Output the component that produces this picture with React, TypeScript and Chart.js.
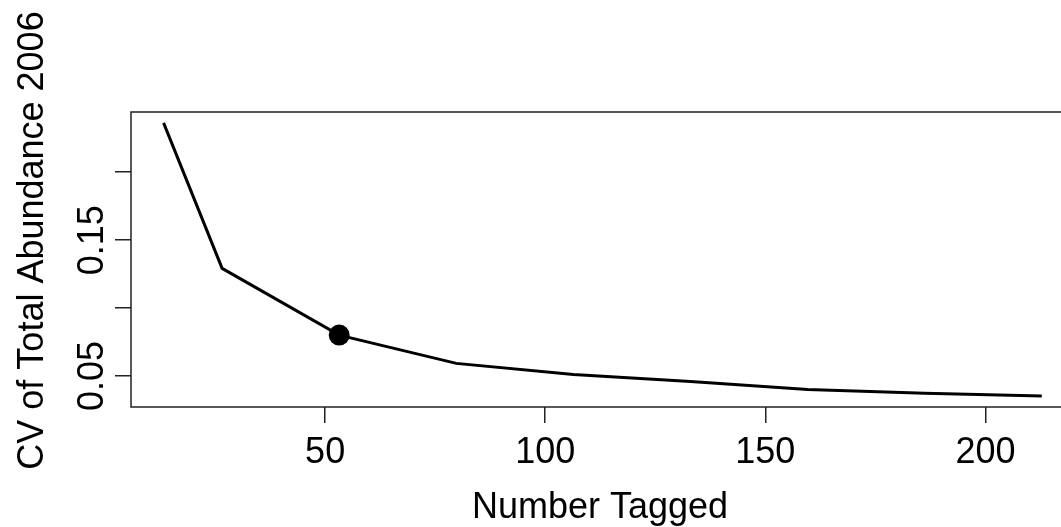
import React, { useEffect, useRef } from "react";
import { Chart, registerables } from "chart.js";

Chart.register(...registerables);

// ---- data ----
const nTagged = [13.3, 26.6, 53.2, 79.8, 106.4, 133, 159.6, 186.2, 212.8];
const cvTotal = [0.2363, 0.1292, 0.0801, 0.0593, 0.0512, 0.046, 0.04, 0.0373, 0.0353];
const chosenN = [53.2];
const chosenCV = [0.0801];
const xTicks = [50, 100, 150, 200];
const yTicks = [0.05, 0.1, 0.15, 0.2];
const yTickLabels = ["0.05", "", "0.15", ""];
const xTitle = "Number Tagged";
const yTitle = "CV of Total Abundance 2006";

const FONT = "'Liberation Sans', Arial, sans-serif";
const CANVAS_W = 1100;
const CANVAS_H = 527;

const framePlugin = {
  id: "frameAndText",
  afterDraw(chart: any) {
    const { ctx, chartArea: a, scales } = chart;
    ctx.save();
    ctx.strokeStyle = "#222";
    ctx.lineWidth = 1.5;
    ctx.strokeRect(a.left, a.top, a.right - a.left, a.bottom - a.top);

    ctx.fillStyle = "#000";
    ctx.font = `36px ${FONT}`;
    const ys = scales.y;
    yTicks.forEach((v, i) => {
      const lbl = yTickLabels[i];
      if (!lbl) return;
      const py = ys.getPixelForValue(v);
      ctx.save();
      ctx.translate(a.left - 28, py);
      ctx.rotate(-Math.PI / 2);
      ctx.textAlign = "center";
      ctx.textBaseline = "alphabetic";
      ctx.fillText(lbl, 0, 0);
      ctx.restore();
    });

    // y axis title
    ctx.save();
    ctx.translate(43, (a.top + a.bottom) / 2 - 19);
    ctx.rotate(-Math.PI / 2);
    ctx.textAlign = "center";
    ctx.textBaseline = "alphabetic";
    ctx.fillText(yTitle, 0, 0);
    ctx.restore();

    // x axis title
    ctx.textAlign = "center";
    ctx.textBaseline = "alphabetic";
    ctx.fillText(xTitle, (a.left + a.right) / 2 - 4, a.bottom + 111);
    ctx.restore();
  },
};

export default function App() {
  const ref = useRef<HTMLCanvasElement | null>(null);

  useEffect(() => {
    if (!ref.current) return;
    const chart = new Chart(ref.current, {
      type: "line",
      data: {
        datasets: [
          {
            type: "line",
            data: nTagged.map((x, i) => ({ x, y: cvTotal[i] })),
            borderColor: "#000",
            borderWidth: 3,
            pointRadius: 0,
            tension: 0,
            fill: false,
          },
          {
            type: "scatter",
            data: chosenN.map((x, i) => ({ x, y: chosenCV[i] })),
            backgroundColor: "#000",
            borderColor: "#000",
            borderWidth: 0,
            pointRadius: 10.5,
          },
        ],
      } as any,
      options: {
        animation: false,
        responsive: false,
        devicePixelRatio: 1,
        layout: { padding: { left: 0, top: 112, right: CANVAS_W - 1077, bottom: 0 } },
        plugins: { legend: { display: false }, tooltip: { enabled: false } },
        scales: {
          x: {
            type: "linear",
            min: 5.9,
            max: 220.8,
            afterBuildTicks: (s: any) => {
              s.ticks = xTicks.map((v) => ({ value: v }));
            },
            afterFit: (s: any) => {
              s.height = 120;
            },
            grid: {
              drawOnChartArea: false,
              drawTicks: true,
              tickLength: 16,
              color: "#222",
              lineWidth: 1.5,
            },
            border: { display: false },
            ticks: {
              autoSkip: false,
              maxRotation: 0,
              minRotation: 0,
              padding: 8,
              color: "#000",
              font: { size: 36, family: FONT },
              callback: (v: any) => String(v),
            },
          },
          y: {
            type: "linear",
            min: 0.0272,
            max: 0.2443,
            afterBuildTicks: (s: any) => {
              s.ticks = yTicks.map((v) => ({ value: v }));
            },
            afterFit: (s: any) => {
              s.width = 131;
            },
            grid: {
              drawOnChartArea: false,
              drawTicks: true,
              tickLength: 16,
              color: "#222",
              lineWidth: 1.5,
            },
            border: { display: false },
            ticks: { display: false },
          },
        },
      } as any,
      plugins: [framePlugin],
    });
    return () => chart.destroy();
  }, []);

  return (
    <div
      style={{
        position: "fixed",
        left: 0,
        top: 0,
        width: 1061,
        height: 527,
        overflow: "hidden",
        background: "#fff",
      }}
    >
      <canvas
        ref={ref}
        width={CANVAS_W}
        height={CANVAS_H}
        style={{ display: "block", width: CANVAS_W, height: CANVAS_H }}
      />
    </div>
  );
}
